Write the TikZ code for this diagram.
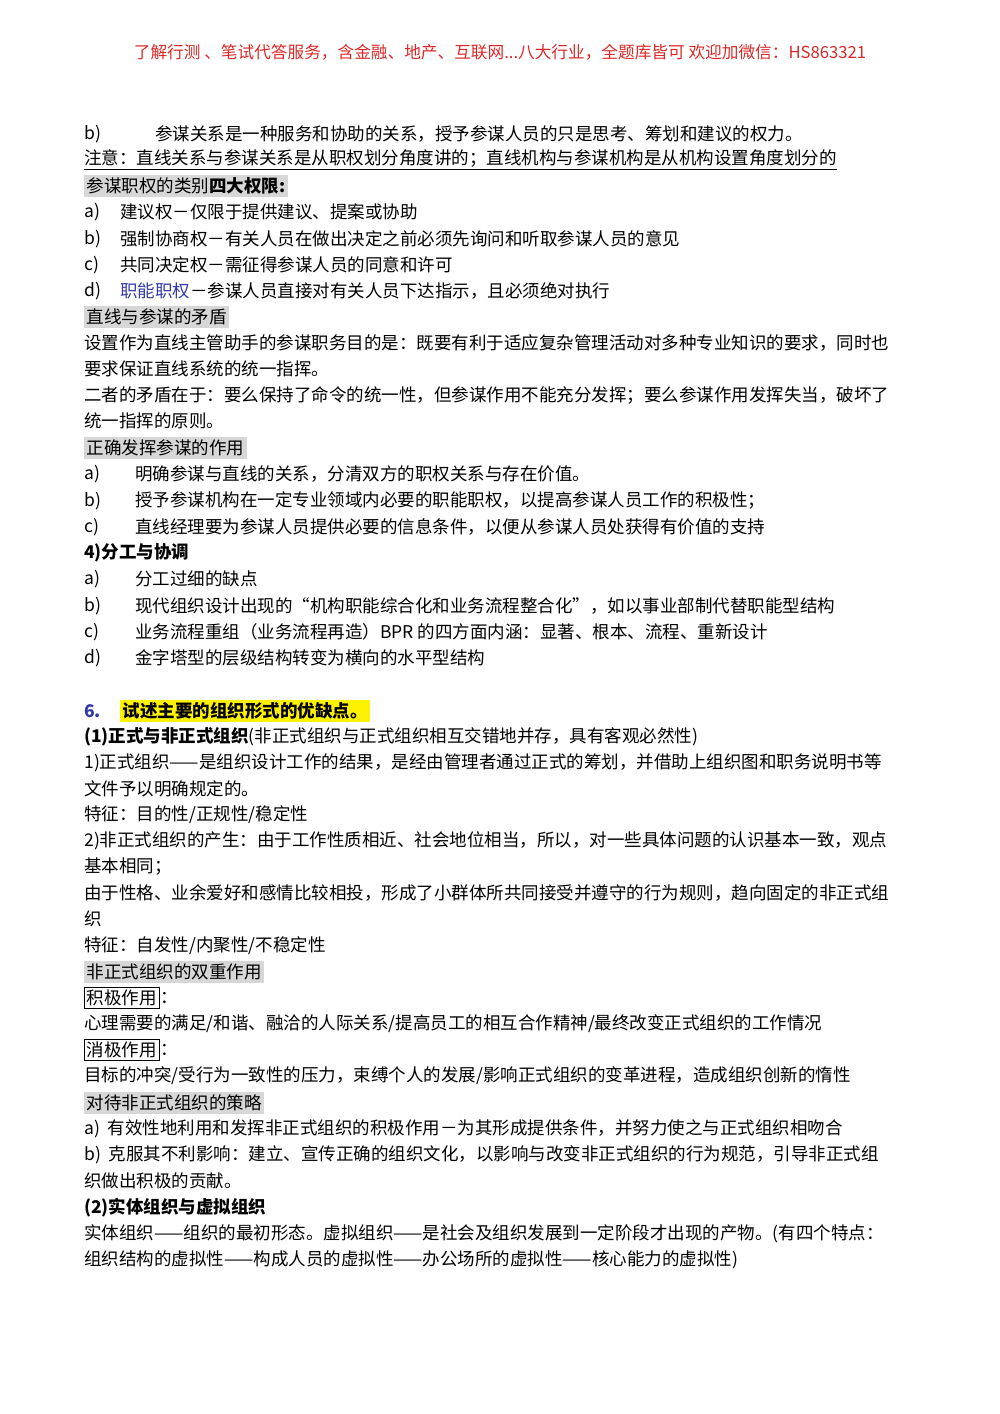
\documentclass[tikz,border=0pt]{standalone}
\usepackage{fontspec}
\setmainfont{Noto Sans CJK SC}
\usepackage{xcolor}
\definecolor{hdred}{RGB}{220,40,40}
\definecolor{lnblue}{RGB}{50,60,170}
\definecolor{hlgray}{RGB}{215,215,215}
\tikzset{
  ln/.style={anchor=west,inner sep=0pt,font=\fontsize{10.5}{12}\selectfont},
  hl/.style={ln,fill=hlgray,inner sep=1.5pt},
  bx/.style={ln,draw,inner sep=1.5pt},
}
\begin{document}
\begin{tikzpicture}[x=0.6pt,y=-0.6pt]
  \useasboundingbox (0,0) rectangle (1000,1414);
  % header
  \node[ln,anchor=center,text=hdred,font=\fontsize{10}{12}\selectfont] (hd) at (500,52) {了解行测 、笔试代答服务，含金融、地产、互联网...八大行业，全题库皆可 欢迎加微信：HS863321};
  % staff relation
  \node[ln] (b0) at (84,134) {b)};
  \node[ln] (b0t) at (155,134) {参谋关系是一种服务和协助的关系，授予参谋人员的只是思考、筹划和建议的权力。};
  \node[ln] (nt) at (84,160) {\underline{注意：直线关系与参谋关系是从职权划分角度讲的；直线机构与参谋机构是从机构设置角度划分的}};
  \node[hl] (h1) at (84,186) {参谋职权的类别\textbf{四大权限:}};
  \foreach \l/\t [count=\i] in {a)/建议权－仅限于提供建议、提案或协助,
      b)/强制协商权－有关人员在做出决定之前必须先询问和听取参谋人员的意见,
      c)/共同决定权－需征得参谋人员的同意和许可}
  {
    \node[ln] at (84,186+26.3*\i) {\l};
    \node[ln] at (120,186+26.3*\i) {\t};
  }
  \node[ln] (d1) at (84,291) {d)};
  \node[ln] (d1t) at (120,291) {\textcolor{lnblue}{职能职权}－参谋人员直接对有关人员下达指示，且必须绝对执行};
  \node[hl] (h2) at (84,317) {直线与参谋的矛盾};
  \node[ln] at (84,343) {设置作为直线主管助手的参谋职务目的是：既要有利于适应复杂管理活动对多种专业知识的要求，同时也};
  \node[ln] at (84,369) {要求保证直线系统的统一指挥。};
  \node[ln] at (84,395) {二者的矛盾在于：要么保持了命令的统一性，但参谋作用不能充分发挥；要么参谋作用发挥失当，破坏了};
  \node[ln] at (84,421) {统一指挥的原则。};
  \node[hl] (h3) at (84,448) {正确发挥参谋的作用};
  \foreach \l/\t [count=\i] in {a)/明确参谋与直线的关系，分清双方的职权关系与存在价值。,
      b)/授予参谋机构在一定专业领域内必要的职能职权，以提高参谋人员工作的积极性；,
      c)/直线经理要为参谋人员提供必要的信息条件，以便从参谋人员处获得有价值的支持}
  {
    \node[ln] at (84,448+26.3*\i) {\l};
    \node[ln] at (135,448+26.3*\i) {\t};
  }
  \node[ln] (h4) at (84,553) {\textbf{4)分工与协调}};
  \foreach \l/\t [count=\i] in {a)/分工过细的缺点,
      b)/现代组织设计出现的“机构职能综合化和业务流程整合化”，如以事业部制代替职能型结构,
      c)/业务流程重组（业务流程再造）BPR 的四方面内涵：显著、根本、流程、重新设计,
      d)/金字塔型的层级结构转变为横向的水平型结构}
  {
    \node[ln] at (84,553+26.3*\i) {\l};
    \node[ln] at (135,553+26.3*\i) {\t};
  }
  % question 6
  \node[ln,text=lnblue] (q6) at (84,711) {\textbf{6.}};
  \node[ln,fill=yellow,inner sep=1.5pt] (q6t) at (120,711) {\textbf{试述主要的组织形式的优缺点。}};
  \node[ln] (s1) at (84,737) {\textbf{(1)正式与非正式组织}(非正式组织与正式组织相互交错地并存，具有客观必然性)};
  \node[ln] at (84,763) {1)正式组织——是组织设计工作的结果，是经由管理者通过正式的筹划，并借助上组织图和职务说明书等};
  \node[ln] at (84,789) {文件予以明确规定的。};
  \node[ln] at (84,815) {特征：目的性/正规性/稳定性};
  \node[ln] at (84,841) {2)非正式组织的产生：由于工作性质相近、社会地位相当，所以，对一些具体问题的认识基本一致，观点};
  \node[ln] at (84,867) {基本相同；};
  \node[ln] at (84,893) {由于性格、业余爱好和感情比较相投，形成了小群体所共同接受并遵守的行为规则，趋向固定的非正式组};
  \node[ln] at (84,919) {织};
  \node[ln] at (84,946) {特征：自发性/内聚性/不稳定性};
  \node[hl] (h5) at (84,972) {非正式组织的双重作用};
  \node[bx] (p1) at (84,998) {积极作用};
  \node[ln,anchor=west] at (p1.east) {：};
  \node[ln] at (84,1024) {心理需要的满足/和谐、融洽的人际关系/提高员工的相互合作精神/最终改变正式组织的工作情况};
  \node[bx] (p2) at (84,1050) {消极作用};
  \node[ln,anchor=west] at (p2.east) {：};
  \node[ln] at (84,1076) {目标的冲突/受行为一致性的压力，束缚个人的发展/影响正式组织的变革进程，造成组织创新的惰性};
  \node[hl] (h6) at (84,1103) {对待非正式组织的策略};
  \node[ln] at (84,1129) {a)\ \ 有效性地利用和发挥非正式组织的积极作用－为其形成提供条件，并努力使之与正式组织相吻合};
  \node[ln] at (84,1155) {b)\ \ 克服其不利影响：建立、宣传正确的组织文化，以影响与改变非正式组织的行为规范，引导非正式组};
  \node[ln] at (84,1181) {织做出积极的贡献。};
  \node[ln] (s2) at (84,1208) {\textbf{(2)实体组织与虚拟组织}};
  \node[ln] at (84,1234) {实体组织——组织的最初形态。虚拟组织——是社会及组织发展到一定阶段才出现的产物。(有四个特点：};
  \node[ln] at (84,1260) {组织结构的虚拟性——构成人员的虚拟性——办公场所的虚拟性——核心能力的虚拟性)};
\end{tikzpicture}
\end{document}
